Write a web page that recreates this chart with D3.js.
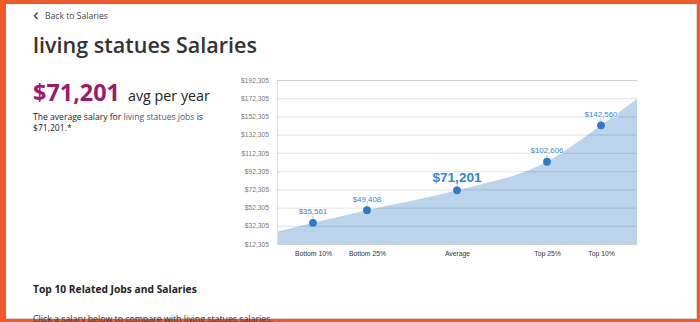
<!DOCTYPE html>
<html>
<head>
<meta charset="utf-8">
<script src="https://cdn.jsdelivr.net/npm/d3@7"></script>
<style>
html,body{margin:0;padding:0;background:#fff;}
svg{display:block;}
</style>
</head>
<body>
<svg id="page" width="700" height="322"></svg>
<script>
// ---- data ----
const categories = ["Bottom 10%", "Bottom 25%", "Average", "Top 25%", "Top 10%"];
const percentiles = [10, 25, 50, 75, 90];
const salaries = [35561, 49408, 71201, 102606, 142560];
const curvePercentiles = [0, 10, 25, 50, 75, 90, 100];
const curveSalaries = [25800, 35561, 49408, 71201, 102606, 142560, 171500];
const yTickValues = [12305, 32305, 52305, 72305, 92305, 112305, 132305, 152305, 172305, 192305];
const averageSalary = 71201;

const svg = d3.select("#page");
const fmt = d3.format("$,");
const humanist = "'Open Sans', 'Noto Sans', sans-serif";
const helv = "'Liberation Sans', Arial, sans-serif";

// page frame
svg.append("rect").attr("width", 700).attr("height", 322).attr("fill", "#ef5a2a");
svg.append("rect").attr("x", 6).attr("y", 4).attr("width", 691).attr("height", 315).attr("fill", "#fff");
svg.append("line").attr("x1", 6).attr("x2", 697).attr("y1", 318.5).attr("y2", 318.5).attr("stroke", "#d8d8d8");
svg.append("line").attr("x1", 696.5).attr("x2", 696.5).attr("y1", 4).attr("y2", 319).attr("stroke", "#d8d8d8");

function fit(sel, target) {
  const w = sel.node().getComputedTextLength();
  const fs = parseFloat(sel.attr("font-size"));
  sel.attr("font-size", fs * target / w);
  return sel;
}

const page = svg.append("g");
// Back link
page.append("path").attr("d", "M37.5,12.5 L34.5,15.8 L37.5,19").attr("fill", "none").attr("stroke", "#444").attr("stroke-width", 1.4);
fit(page.append("text").attr("x", 45).attr("y", 19).attr("font-family", humanist).attr("font-size", 10).attr("fill", "#444").text("Back to Salaries"), 63);

// Title
fit(page.append("text").attr("x", 33).attr("y", 53).attr("font-family", humanist).attr("font-weight", 600).attr("font-size", 24).attr("fill", "#333").text("living statues Salaries"), 224);

// Big average
fit(page.append("text").attr("x", 33).attr("y", 101).attr("font-family", humanist).attr("font-weight", 700).attr("font-size", 26).attr("fill", "#9c1a6c").text(fmt(averageSalary)), 87);
fit(page.append("text").attr("x", 128).attr("y", 101).attr("font-family", humanist).attr("font-size", 15).attr("fill", "#222").text("avg per year"), 82);

const p = page.append("text").attr("x", 33).attr("y", 120).attr("font-family", humanist).attr("font-size", 9.5).attr("fill", "#222");
p.append("tspan").text("The average salary for ");
p.append("tspan").attr("fill", "#4b5670").text("living statues jobs");
p.append("tspan").text(" is");
fit(p, 170);
page.append("text").attr("x", 33).attr("y", 131).attr("font-family", humanist).attr("font-size", p.attr("font-size")).attr("fill", "#222").text(fmt(averageSalary) + ".*");

fit(page.append("text").attr("x", 33).attr("y", 292.5).attr("font-family", humanist).attr("font-weight", 700).attr("font-size", 11).attr("fill", "#222").text("Top 10 Related Jobs and Salaries"), 164);
fit(page.append("text").attr("x", 33).attr("y", 322).attr("font-family", humanist).attr("font-size", 10).attr("fill", "#333").text("Click a salary below to compare with living statues salaries."), 240);

// ---- chart ----
const x = d3.scaleLinear().domain([0, 100]).range([277, 637]);
const y = d3.scaleLinear().domain([12305, 192305]).range([244, 80]);

const chart = svg.insert("g", "g");

// area
const curveData = curvePercentiles.map((pc, i) => ({ p: pc, v: curveSalaries[i] }));
chart.append("path")
  .datum(curveData)
  .attr("fill", "#bad4eb")
  .attr("d", d3.area().x(d => x(d.p)).y0(y(12305)).y1(d => y(d.v)).curve(d3.curveMonotoneX));

// grid + y axis
const yAxis = d3.axisLeft(y).tickValues(yTickValues).tickFormat(fmt).tickSize(-360).tickPadding(8);
const ya = chart.append("g").attr("transform", "translate(277,0)").call(yAxis);
ya.select(".domain").attr("stroke", "#e4e4e4");
ya.selectAll(".tick line").attr("stroke", "rgba(0,0,0,0.09)").attr("stroke-width", 1.2);
ya.selectAll(".tick text").attr("font-family", helv).attr("font-size", 6.7).attr("fill", "#777");

// x axis labels
const xAxis = d3.axisBottom(x).tickValues(percentiles).tickFormat((d, i) => categories[i]).tickSize(0).tickPadding(7);
const xa = chart.append("g").attr("transform", "translate(0,244)").call(xAxis);
xa.select(".domain").remove();
xa.selectAll(".tick text").attr("font-family", helv).attr("font-size", 6.8).attr("fill", "#333");

// points
const pts = percentiles.map((pc, i) => ({ p: pc, v: salaries[i], c: categories[i] }));
const g = chart.selectAll(".pt").data(pts).join("g").attr("class", "pt");
g.append("line")
  .attr("x1", d => x(d.p)).attr("x2", d => x(d.p))
  .attr("y1", d => y(d.v) - 7).attr("y2", d => y(d.v))
  .attr("stroke", "#7aa9d6").attr("stroke-width", 0.6);
g.append("circle")
  .attr("cx", d => x(d.p)).attr("cy", d => y(d.v)).attr("r", 3.9)
  .attr("fill", "#2a7ccb");
g.append("text")
  .attr("x", d => x(d.p)).attr("y", d => y(d.v) - 8.5)
  .attr("text-anchor", "middle")
  .attr("font-family", helv)
  .attr("font-size", d => d.c === "Average" ? 13.6 : 7.9)
  .attr("font-weight", d => d.c === "Average" ? 700 : 400)
  .attr("fill", "#2f86d2")
  .attr("stroke", "#fff").attr("stroke-width", d => d.c === "Average" ? 0 : 1.6).attr("paint-order", "stroke")
  .text(d => fmt(d.v));
</script>
</body>
</html>
